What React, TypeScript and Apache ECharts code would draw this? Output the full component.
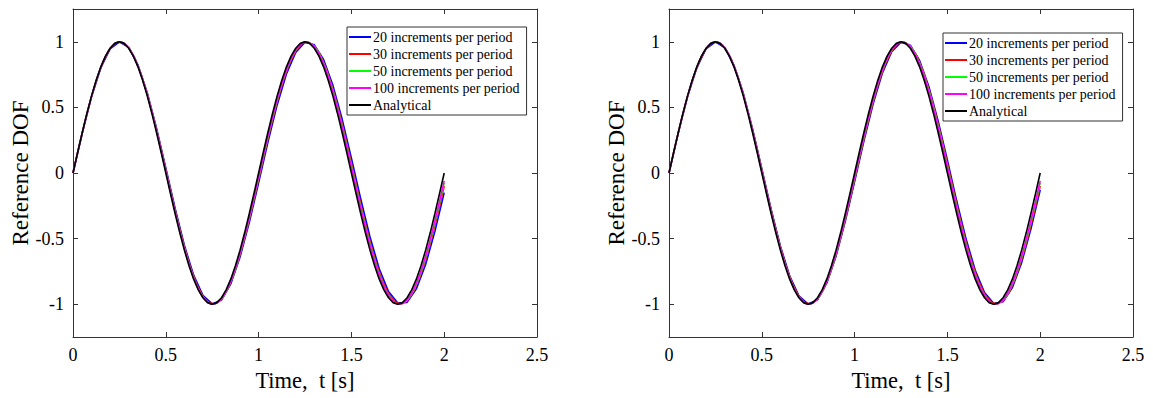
import React, { useEffect, useRef } from "react";
import * as echarts from "echarts";

const FONT = '"Liberation Serif", "Times New Roman", serif';
const AXIS_COLOR = "#333333";

// Legend / series names
const seriesNames = [
  "20 increments per period",
  "30 increments per period",
  "50 increments per period",
  "100 increments per period",
  "Analytical",
];
const seriesColors = ["#0000ff", "#ff0000", "#00ff00", "#ff00ff", "#000000"];

// Tick values
const xTickValues = [0, 0.5, 1, 1.5, 2, 2.5];
const yTickValues = [-1, -0.5, 0, 0.5, 1];

// Time step (s) of every array
const dtBlue = 0.05; // 20 increments per period
const dtRed = 1 / 30; // 30 increments per period
const dtSampled = 0.05;
const dtAnalytical = 0.025;

// Analytical response
const analytical = [
  0, 0.156, 0.309, 0.454, 0.588, 0.707, 0.809, 0.891, 0.951, 0.988, 1, 0.988, 0.951, 0.891, 0.809, 0.707, 0.588,
  0.454, 0.309, 0.156, 0, -0.156, -0.309, -0.454, -0.588, -0.707, -0.809, -0.891, -0.951, -0.988, -1, -0.988,
  -0.951, -0.891, -0.809, -0.707, -0.588, -0.454, -0.309, -0.156, 0, 0.156, 0.309, 0.454, 0.588, 0.707, 0.809,
  0.891, 0.951, 0.988, 1, 0.988, 0.951, 0.891, 0.809, 0.707, 0.588, 0.454, 0.309, 0.156, 0, -0.156, -0.309,
  -0.454, -0.588, -0.707, -0.809, -0.891, -0.951, -0.988, -1, -0.988, -0.951, -0.891, -0.809, -0.707, -0.588,
  -0.454, -0.309, -0.156, 0,
];

// Left panel
const blueLeft = [
  0, 0.305, 0.582, 0.803, 0.946, 1.0, 0.958, 0.824, 0.612, 0.341, 0.038, -0.269, -0.551, -0.779, -0.933, -0.998,
  -0.968, -0.845, -0.641, -0.376, -0.075, 0.233, 0.519, 0.755, 0.919, 0.996, 0.977, 0.865, 0.67, 0.411, 0.113,
  -0.196, -0.486, -0.73, -0.904, -0.991, -0.986, -0.883, -0.697, -0.445, -0.15,
];
const redLeft = [
  0, 0.206, 0.404, 0.584, 0.739, 0.862, 0.948, 0.993, 0.996, 0.956, 0.874, 0.755, 0.604, 0.426, 0.231, 0.025,
  -0.182, -0.381, -0.563, -0.722, -0.849, -0.94, -0.99, -0.998, -0.963, -0.886, -0.772, -0.624, -0.449, -0.255,
  -0.05, 0.157, 0.357, 0.542, 0.704, 0.835, 0.931, 0.986, 0.999, 0.969, 0.898, 0.787, 0.643, 0.471, 0.279, 0.075,
  -0.132, -0.334, -0.521, -0.686, -0.821, -0.921, -0.982, -1.0, -0.975, -0.908, -0.802, -0.662, -0.493, -0.303,
  -0.1,
];
const greenLeft = [
  0, 0.307, 0.585, 0.806, 0.949, 1.0, 0.955, 0.817, 0.6, 0.325, 0.019, -0.289, -0.57, -0.795, -0.943, -1.0, -0.96,
  -0.827, -0.615, -0.343, -0.038, 0.271, 0.554, 0.783, 0.936, 0.999, 0.965, 0.838, 0.63, 0.36, 0.056, -0.253,
  -0.538, -0.771, -0.93, -0.998, -0.97, -0.848, -0.644, -0.378, -0.075,
];
const magentaLeft = [
  0, 0.308, 0.585, 0.806, 0.949, 1.0, 0.954, 0.815, 0.598, 0.322, 0.015, -0.293, -0.573, -0.798, -0.945, -1.0,
  -0.959, -0.824, -0.61, -0.336, -0.03, 0.279, 0.561, 0.788, 0.939, 0.999, 0.962, 0.832, 0.621, 0.35, 0.045,
  -0.265, -0.548, -0.779, -0.934, -0.999, -0.966, -0.84, -0.633, -0.364, -0.06,
];

// Right panel
const blueRight = [
  0, 0.306, 0.583, 0.803, 0.947, 1.0, 0.957, 0.822, 0.609, 0.337, 0.033, -0.275, -0.556, -0.783, -0.936, -0.999,
  -0.966, -0.84, -0.634, -0.367, -0.065, 0.243, 0.528, 0.763, 0.924, 0.997, 0.974, 0.858, 0.659, 0.397, 0.098,
  -0.212, -0.5, -0.741, -0.911, -0.994, -0.981, -0.874, -0.683, -0.427, -0.13,
];
const redRight = redLeft;
const greenRight = greenLeft;
const magentaRight = magentaLeft;

const panels = [
  { left: 73, legendLeft: 347, legendTop: 27, data: [blueLeft, redLeft, greenLeft, magentaLeft, analytical] },
  { left: 669, legendLeft: 943, legendTop: 33, data: [blueRight, redRight, greenRight, magentaRight, analytical] },
];
const steps = [dtBlue, dtRed, dtSampled, dtSampled, dtAnalytical];
const smoothFlags = [false, false, 0.4, 0.4, false];

const GRID_TOP = 9;
const GRID_W = 464;
const GRID_H = 328;

function toPairs(values: number[], dt: number) {
  return values.map((v, i) => [i * dt, v]);
}

function fmtY(v: number) {
  return yTickValues.some((t) => Math.abs(t - v) < 1e-9) ? String(v) : "";
}

export default function App() {
  const ref = useRef<HTMLDivElement>(null);

  useEffect(() => {
    if (!ref.current) return;
    const chart = echarts.init(ref.current, undefined, { renderer: "svg" });

    const axisLine = { show: true, onZero: false, lineStyle: { color: AXIS_COLOR, width: 1 } };
    const axisTick = { show: true, inside: true, length: 5, lineStyle: { color: AXIS_COLOR, width: 1 } };

    const grid: any[] = [];
    const xAxis: any[] = [];
    const yAxis: any[] = [];
    const series: any[] = [];
    const legend: any[] = [];

    panels.forEach((p, i) => {
      grid.push({ left: p.left, top: GRID_TOP, width: GRID_W, height: GRID_H, containLabel: false });
      xAxis.push({
        gridIndex: i,
        type: "value",
        position: "bottom",
        min: xTickValues[0],
        max: xTickValues[xTickValues.length - 1],
        interval: 0.5,
        axisLine,
        axisTick,
        splitLine: { show: false },
        axisLabel: { fontSize: 18, fontFamily: FONT, color: "#000", margin: 9 },
        name: "Time,  t [s]",
        nameLocation: "middle",
        nameGap: 29,
        nameTextStyle: { fontSize: 22.5, fontFamily: FONT, color: "#000" },
      });
      xAxis.push({
        gridIndex: i,
        type: "value",
        position: "top",
        min: xTickValues[0],
        max: xTickValues[xTickValues.length - 1],
        interval: 0.5,
        axisLine,
        axisTick,
        splitLine: { show: false },
        axisLabel: { show: false },
      });
      yAxis.push({
        gridIndex: i,
        type: "value",
        position: "left",
        min: -1.25,
        max: 1.25,
        splitNumber: 5,
        axisLine,
        axisTick,
        splitLine: { show: false },
        axisLabel: { fontSize: 18, fontFamily: FONT, color: "#000", margin: 9, formatter: fmtY },
        name: "Reference DOF",
        nameLocation: "middle",
        nameGap: 39,
        nameTextStyle: { fontSize: 23, fontFamily: FONT, color: "#000" },
      });
      yAxis.push({
        gridIndex: i,
        type: "value",
        position: "right",
        min: -1.25,
        max: 1.25,
        splitNumber: 5,
        axisLine,
        axisTick,
        splitLine: { show: false },
        axisLabel: { show: false },
      });
      p.data.forEach((vals, s) => {
        series.push({
          type: "line",
          name: seriesNames[s],
          xAxisIndex: i * 2,
          yAxisIndex: i * 2,
          data: toPairs(vals, steps[s]),
          showSymbol: false,
          symbol: "none",
          smooth: smoothFlags[s],
          lineStyle: { color: seriesColors[s], width: 1.6 },
          itemStyle: { color: seriesColors[s] },
          emphasis: { disabled: true },
          z: 2 + s,
        });
      });
      legend.push({
        orient: "vertical",
        left: p.legendLeft,
        top: p.legendTop,
        data: seriesNames,
        icon: "rect",
        itemWidth: 22,
        itemHeight: 2,
        itemGap: 3,
        selectedMode: false,
        backgroundColor: "#ffffff",
        borderColor: AXIS_COLOR,
        borderWidth: 1,
        borderRadius: 0,
        padding: [3, 7, 3, 2],
        textStyle: { fontSize: 14, fontFamily: FONT, color: "#000", lineHeight: 14, padding: [0, 0, 0, -3] },
      });
    });

    chart.setOption({
      animation: false,
      backgroundColor: "#ffffff",
      textStyle: { fontFamily: FONT },
      grid,
      xAxis,
      yAxis,
      legend,
      series,
    });

    return () => chart.dispose();
  }, []);

  return (
    <div
      ref={ref}
      style={{ position: "absolute", left: 0, top: 0, width: 1153, height: 398, background: "#fff" }}
    />
  );
}
